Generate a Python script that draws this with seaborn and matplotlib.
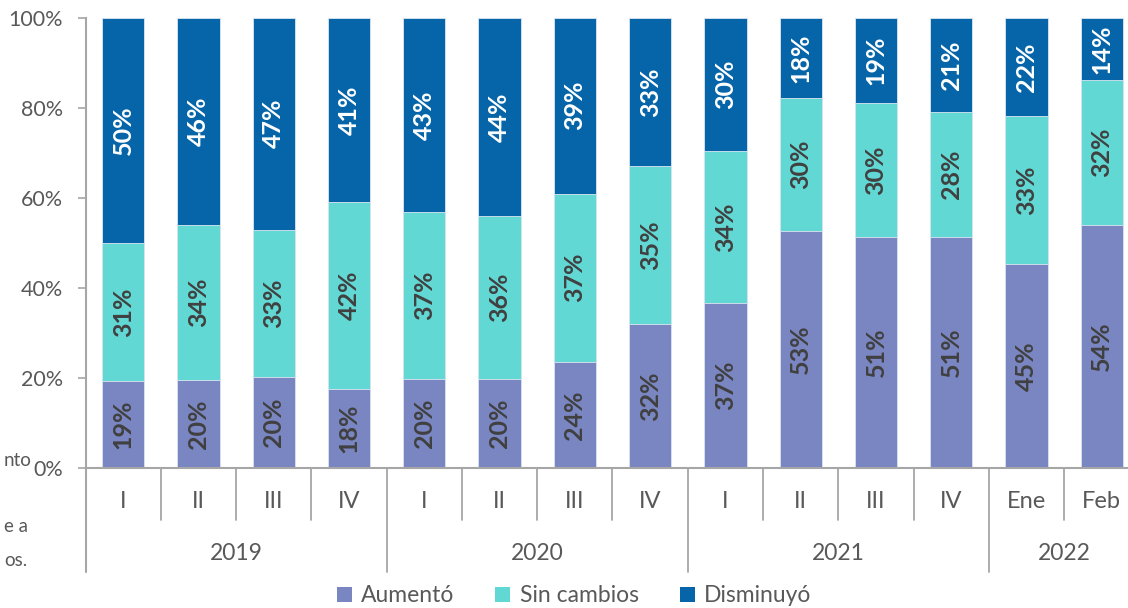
import matplotlib
matplotlib.use("Agg")
import matplotlib.pyplot as plt
import seaborn as sns
import pandas as pd
import numpy as np
from matplotlib.patches import Patch

# ---- data ----
periods = ["I", "II", "III", "IV", "I", "II", "III", "IV", "I", "II", "III", "IV", "Ene", "Feb"]
years = ["2019", "2020", "2021", "2022"]
year_sizes = [4, 4, 4, 2]
aumento = [19.3, 19.6, 20.2, 17.6, 19.8, 19.8, 23.6, 32.0, 36.6, 52.6, 51.3, 51.4, 45.3, 54.0]
sin_cambios = [30.7, 34.4, 32.8, 41.6, 37.1, 36.2, 37.4, 35.2, 33.8, 29.7, 29.8, 27.7, 32.9, 32.2]
disminuyo = [50.0, 46.0, 47.0, 40.8, 43.1, 44.0, 39.0, 32.8, 29.6, 17.7, 18.9, 20.9, 21.8, 13.8]
series_names = ["Aumentó", "Sin cambios", "Disminuyó"]
colors = ["#7A86C2", "#62D8D4", "#0665A8"]
text_colors = ["#404040", "#404040", "#FFFFFF"]
yticks = [0, 20, 40, 60, 80, 100]

# ---- figure ----
sns.set_theme(style="white")
plt.rcParams["font.family"] = ["Lato", "DejaVu Sans"]
GRAY = "#595959"
AX = "#A6A6A6"

fig = plt.figure(figsize=(11.28, 6.08), dpi=100)
W, H = 1128, 608
ax_left, ax_right, ax_top, ax_bot = 85.5, 1139.5, 18, 468
ax = fig.add_axes([ax_left / W, 1 - ax_bot / H, (ax_right - ax_left) / W, (ax_bot - ax_top) / H])

keys = [f"{k}_{p}" for k, p in zip(range(len(periods)), periods)]
df = pd.DataFrame({"key": keys, "A": aumento, "S": sin_cambios, "D": disminuyo})
df["cum1"] = df["A"]
df["cum2"] = df["A"] + df["S"]
df["cum3"] = df["A"] + df["S"] + df["D"]

width = 0.56
for col, c in zip(["cum3", "cum2", "cum1"], colors[::-1]):
    sns.barplot(data=df, x="key", y=col, order=keys, color=c, saturation=1,
                width=width, edgecolor="#DDE6F0", linewidth=0.6, ax=ax, errorbar=None)

# labels in segments
for i in range(len(keys)):
    bottoms = [0, aumento[i], aumento[i] + sin_cambios[i]]
    vals = [aumento[i], sin_cambios[i], disminuyo[i]]
    for b, v, tc in zip(bottoms, vals, text_colors):
        ax.text(i, b + v / 2, f"{round(v):d}%", rotation=90, ha="center", va="center",
                color=tc, fontsize=18, fontweight="bold")

ax.set_ylim(0, 100)
ax.set_xlim(-0.5, len(keys) - 0.5)
ax.set_yticks(yticks)
ax.set_yticklabels([f"{t}%" for t in yticks], fontsize=15.5, color=GRAY)
ax.tick_params(axis="y", length=6, width=1.2, color=AX, pad=10, left=True)
ax.set_xticks([])
ax.set_xlabel("")
ax.set_ylabel("")
for s in ["top", "right"]:
    ax.spines[s].set_visible(False)
ax.spines["left"].set_color(AX)
ax.spines["left"].set_linewidth(1.5)
ax.spines["bottom"].set_color(AX)
ax.spines["bottom"].set_linewidth(1.5)

trans = ax.get_xaxis_transform()
ph = ax_bot - ax_top
y_q = -34 / ph
y_y = -85 / ph
y_qsep = -52 / ph
y_ysep = -104 / ph

for i, p in enumerate(periods):
    ax.text(i, y_q, p, transform=trans, ha="center", va="center", fontsize=17, color=GRAY)

# separators
year_bounds = np.cumsum([0] + year_sizes) - 0.5
for j in range(1, len(periods)):
    xb = j - 0.5
    bottom = y_ysep if xb in year_bounds else y_qsep
    ax.plot([xb, xb], [0, bottom], transform=trans, color=AX, lw=1.3, clip_on=False)
ax.plot([-0.5, -0.5], [0, y_ysep], transform=trans, color=AX, lw=1.5, clip_on=False)

for k, (yr, n) in enumerate(zip(years, year_sizes)):
    center = year_bounds[k] + n / 2
    ax.text(center, y_y, yr, transform=trans, ha="center", va="center", fontsize=16.5, color=GRAY)

handles = [Patch(facecolor=c, edgecolor="none") for c in colors]
fig.legend(handles, series_names, loc="center", bbox_to_anchor=(574 / W, 1 - 596 / H), ncol=3,
           frameon=False, fontsize=16.5, handlelength=0.65, handleheight=0.65, handletextpad=0.4,
           columnspacing=1.8, labelcolor=GRAY)

# partially visible neighbouring text at the left edge
for txt, yy in [("nto", 460), ("e a", 527), ("os.", 560)]:
    fig.text(4 / W, 1 - yy / H, txt, ha="left", va="center", fontsize=13.5, color=GRAY)

fig.savefig("out.png", dpi=100)
